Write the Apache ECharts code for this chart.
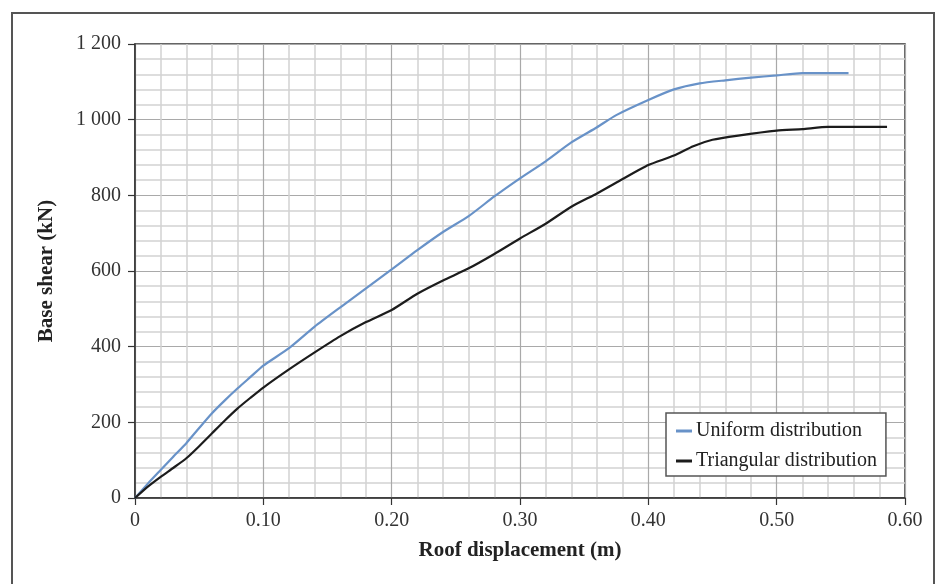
<!DOCTYPE html>
<html>
<head>
<meta charset="utf-8">
<script src="https://cdn.jsdelivr.net/npm/echarts@6/dist/echarts.min.js"></script>
<style>
html,body{margin:0;padding:0;background:#fff;}
#c{width:940px;height:584px;}
</style>
</head>
<body>
<div id="c"></div>
<script>
// ---- data ----
const seriesNames = ['Uniform distribution', 'Triangular distribution'];
const uniformDisp = [0, 0.01, 0.02, 0.03, 0.04, 0.05, 0.06, 0.07, 0.08, 0.09, 0.10, 0.12, 0.14, 0.16, 0.18, 0.20, 0.22, 0.24, 0.26, 0.28, 0.30, 0.32, 0.34, 0.36, 0.375, 0.40, 0.42, 0.44, 0.46, 0.48, 0.50, 0.52, 0.556];
const uniformShear = [0, 38, 74, 110, 145, 185, 224, 258, 290, 320, 350, 396, 453, 504, 554, 604, 655, 703, 745, 797, 845, 890, 940, 980, 1012, 1052, 1080, 1096, 1104, 1111, 1117, 1123, 1123];
const triDisp = [0, 0.01, 0.02, 0.03, 0.04, 0.05, 0.06, 0.07, 0.08, 0.09, 0.10, 0.12, 0.14, 0.16, 0.18, 0.20, 0.22, 0.24, 0.26, 0.28, 0.30, 0.32, 0.34, 0.36, 0.38, 0.40, 0.42, 0.435, 0.45, 0.47, 0.50, 0.52, 0.54, 0.586];
const triShear = [0, 30, 56, 80, 105, 137, 171, 205, 237, 265, 292, 340, 385, 428, 465, 497, 540, 575, 607, 645, 686, 725, 770, 805, 843, 880, 905, 930, 947, 958, 971, 975, 981, 981];
const xTickLabels = ['0', '0.10', '0.20', '0.30', '0.40', '0.50', '0.60'];
const yTickLabels = ['0', '200', '400', '600', '800', '1 000', '1 200'];
const xAxisTitle = 'Roof displacement (m)';
const yAxisTitle = 'Base shear (kN)';

const FONT = '"Liberation Serif", "Times New Roman", serif';
const zip = (a, b) => a.map((v, i) => [v, b[i]]);

const chart = echarts.init(document.getElementById('c'), null, {renderer: 'canvas'});
chart.setOption({
  animation: false,
  backgroundColor: '#fff',
  textStyle: {fontFamily: FONT},
  graphic: [{
    type: 'rect',
    shape: {x: 12, y: 13, width: 922, height: 620},
    style: {fill: 'none', stroke: '#555', lineWidth: 2},
    silent: true, z: -10
  }],
  grid: {
    left: 135, right: 35, top: 44, bottom: 86,
    containLabel: false, outerBoundsMode: 'none',
    show: true, borderColor: '#333', borderWidth: 1.5, backgroundColor: 'transparent'
  },
  legend: {
    data: seriesNames,
    orient: 'vertical',
    left: 666, top: 413,
    padding: [8, 9, 5, 10],
    itemGap: 10,
    itemWidth: 16, itemHeight: 3,
    icon: 'rect',
    backgroundColor: '#fff',
    borderColor: '#555', borderWidth: 1.5, borderRadius: 0,
    textStyle: {fontFamily: FONT, fontSize: 20, color: '#222', padding: [0, 0, 0, -1]}
  },
  xAxis: {
    type: 'value', min: 0, max: 0.6, interval: 0.1,
    name: xAxisTitle, nameLocation: 'middle', nameGap: 42,
    nameTextStyle: {fontFamily: FONT, fontSize: 21, fontWeight: 'bold', color: '#222'},
    axisLine: {show: true, onZero: false, lineStyle: {color: '#333', width: 1.5}},
    axisTick: {show: true, inside: false, length: 7, lineStyle: {color: '#333', width: 1.2}},
    axisLabel: {
      margin: 13, fontFamily: FONT, fontSize: 20, color: '#333',
      formatter: v => xTickLabels[Math.round(v / 0.1)]
    },
    splitLine: {show: true, lineStyle: {color: '#a9a9a9', width: 1.2}},
    minorTick: {show: false, splitNumber: 5},
    minorSplitLine: {show: true, lineStyle: {color: '#d2d2d2', width: 1.5}}
  },
  yAxis: {
    type: 'value', min: 0, max: 1200, interval: 200,
    name: yAxisTitle, nameLocation: 'middle', nameGap: 78, nameRotate: 90,
    nameTextStyle: {fontFamily: FONT, fontSize: 21, fontWeight: 'bold', color: '#222'},
    axisLine: {show: true, onZero: false, lineStyle: {color: '#333', width: 1.5}},
    axisTick: {show: true, inside: false, length: 7, lineStyle: {color: '#333', width: 1.2}},
    axisLabel: {
      margin: 14, fontFamily: FONT, fontSize: 20, color: '#333',
      formatter: v => yTickLabels[Math.round(v / 200)]
    },
    splitLine: {show: true, lineStyle: {color: '#a9a9a9', width: 1.2}},
    minorTick: {show: false, splitNumber: 5},
    minorSplitLine: {show: true, lineStyle: {color: '#d2d2d2', width: 1.5}}
  },
  series: [
    {
      name: seriesNames[0], type: 'line', data: zip(uniformDisp, uniformShear),
      showSymbol: false, symbol: 'none', smooth: 0.2,
      lineStyle: {color: '#6892c8', width: 2.2}, itemStyle: {color: '#6892c8'}, z: 3
    },
    {
      name: seriesNames[1], type: 'line', data: zip(triDisp, triShear),
      showSymbol: false, symbol: 'none', smooth: 0.2,
      lineStyle: {color: '#1c1c1c', width: 2.2}, itemStyle: {color: '#1c1c1c'}, z: 3
    }
  ]
});
</script>
</body>
</html>
